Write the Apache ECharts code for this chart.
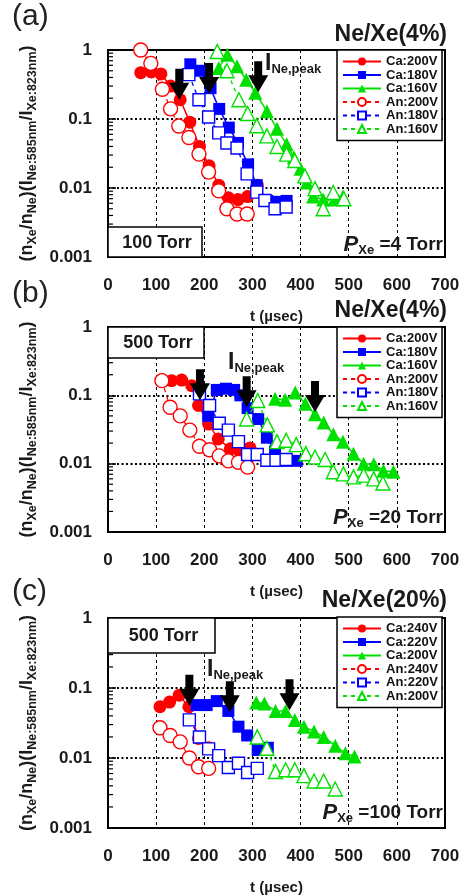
<!DOCTYPE html>
<html><head><meta charset="utf-8">
<script src="https://cdn.jsdelivr.net/npm/echarts@6/dist/echarts.min.js"></script>
<style>html,body{margin:0;padding:0;background:#fff}#c{width:466px;height:896px}</style>
</head><body><div id="c"></div>
<script>
// ---------- tick labels ----------
const yTickLabels = ['0.001', '0.01', '0.1', '1'];
const yMinorTicks = [0.002,0.003,0.004,0.005,0.006,0.007,0.008,0.009,
                     0.02,0.03,0.04,0.05,0.06,0.07,0.08,0.09,
                     0.2,0.3,0.4,0.5,0.6,0.7,0.8,0.9];

// ---------- panel (a): Ne/Xe(4%), 100 Torr, P_Xe = 4 Torr ----------
const namesA = ['Ca:200V','Ca:180V','Ca:160V','An:200V','An:180V','An:160V'];
const aCa200 = [[68,0.47],[90,0.48],[110,0.45],[130,0.3],[150,0.19],[170,0.09],[190,0.04],[210,0.021],[230,0.011],[250,0.0072],[270,0.0068],[290,0.0075],[310,0.011]];
const aCa180 = [[171,0.62],[192,0.5],[213,0.28],[231,0.14],[251,0.075],[270,0.045],[291,0.022],[309,0.011],[331,0.0065],[351,0.0063],[371,0.0065]];
const aCa160 = [[230,0.55],[248,0.85],[268,0.58],[287,0.37],[306,0.24],[330,0.13],[351,0.072],[371,0.043],[386,0.028],[400,0.019],[413,0.012],[426,0.0075],[447,0.0068],[470,0.0068],[488,0.0075]];
const aAn200 = [[68,1.0],[89,0.64],[113,0.27],[130,0.14],[147,0.079],[168,0.054],[189,0.031],[209,0.017],[230,0.0091],[247,0.005],[268,0.0042],[289,0.0042]];
const aAn180 = [[168,0.44],[189,0.19],[209,0.107],[230,0.063],[247,0.045],[268,0.038],[289,0.016],[309,0.0087],[326,0.0066],[347,0.005],[370,0.0053]];
const aAn160 = [[227,0.95],[247,0.5],[272,0.19],[290,0.12],[309,0.08],[330,0.057],[351,0.04],[371,0.031],[388,0.025],[409,0.015],[430,0.0098],[447,0.005],[468,0.0086],[490,0.007]];
const arrowsA = [[148,0.19],[210,0.23],[312,0.245]];

// ---------- panel (b): Ne/Xe(4%), 500 Torr, P_Xe = 20 Torr ----------
const namesB = ['Ca:200V','Ca:180V','Ca:160V','An:200V','An:180V','An:160V'];
const bCa200 = [[132,0.164],[153,0.167],[174,0.138],[188,0.071],[209,0.038],[229,0.023],[254,0.0165],[274,0.015],[295,0.017]];
const bCa180 = [[208,0.05],[226,0.12],[245,0.125],[262,0.12],[275,0.1],[290,0.065],[312,0.045],[330,0.024],[347,0.015],[370,0.011],[392,0.011]];
const bCa160 = [[347,0.089],[368,0.086],[389,0.11],[410,0.075],[430,0.053],[448,0.04],[468,0.027],[488,0.021],[510,0.014],[531,0.01],[552,0.0098],[572,0.0079],[593,0.0076]];
const bAn200 = [[112,0.164],[129,0.067],[150,0.05],[170,0.031],[190,0.018],[211,0.016],[231,0.013],[250,0.011],[271,0.0105],[290,0.0089]];
const bAn180 = [[190,0.105],[211,0.071],[231,0.039],[250,0.031],[271,0.021],[290,0.0136],[310,0.0136],[330,0.0112],[349,0.0112],[370,0.0115]];
const bAn160 = [[288,0.045],[311,0.084],[331,0.037],[351,0.021],[370,0.022],[391,0.019],[411,0.014],[430,0.0125],[451,0.0115],[468,0.0076],[489,0.0071],[510,0.0064],[531,0.0068],[552,0.006],[571,0.0052]];
const arrowsB = [[191,0.085],[288,0.067],[430,0.057]];

// ---------- panel (c): Ne/Xe(20%), 500 Torr, P_Xe = 100 Torr ----------
const namesC = ['Ca:240V','Ca:220V','Ca:200V','An:240V','An:220V','An:200V'];
const cCa240 = [[108,0.054],[128,0.063],[148,0.079],[168,0.054],[188,0.019],[209,0.014]];
const cCa220 = [[184,0.057],[205,0.057],[226,0.065],[250,0.047],[271,0.028],[289,0.021],[311,0.013],[332,0.014]];
const cCa200 = [[308,0.062],[325,0.06],[348,0.047],[369,0.047],[388,0.035],[407,0.028],[428,0.024],[448,0.02],[472,0.015],[493,0.0117],[512,0.0105]];
const cAn240 = [[108,0.027],[129,0.021],[150,0.017],[169,0.01],[188,0.0075],[209,0.0071]];
const cAn220 = [[169,0.035],[190,0.02],[209,0.0135],[230,0.0108],[250,0.0073],[271,0.0084],[290,0.0062],[310,0.0071]];
const cAn200 = [[310,0.02],[330,0.0138],[348,0.0064],[369,0.0068],[388,0.0068],[407,0.0056],[428,0.0047],[448,0.0047],[472,0.0036]];
const arrowsC = [[169,0.056],[253,0.045],[377,0.048]];

// ---------- layout / style ----------
const FONT = '"Liberation Sans", Arial, Helvetica, sans-serif';
const colors = ['#ff0000', '#0000ff', '#00e000'];
const symbols = ['circle', 'rect', 'triangle'];
const filledSize = [13, 12, 14];
const openSize = [14, 12, 14];
const gridBoxes = [{top: 50, height: 207}, {top: 327, height: 205}, {top: 618, height: 211}];
const legendTops = [50, 327, 617];

const panels = [
  {id: 'a', names: namesA, ca: [aCa200, aCa180, aCa160], an: [aAn200, aAn180, aAn160], arrows: arrowsA},
  {id: 'b', names: namesB, ca: [bCa200, bCa180, bCa160], an: [bAn200, bAn180, bAn160], arrows: arrowsB},
  {id: 'c', names: namesC, ca: [cCa240, cCa220, cCa200], an: [cAn240, cAn220, cAn200], arrows: arrowsC}
];

const yNameRich = {
  m: {fontSize: 18, fontWeight: 'bold', color: '#1a1a1a', lineHeight: 24, verticalAlign: 'middle', fontFamily: FONT},
  s: {fontSize: 12.5, fontWeight: 'bold', color: '#1a1a1a', lineHeight: 12, verticalAlign: 'bottom', fontFamily: FONT}
};
const yName = '{m|(n}{s|Xe}{m|/n}{s|Ne}{m|)(I}{s|Ne:585nm}{m|/I}{s|Xe:823nm}{m|)}';

const grid = [], xAxis = [], yAxis = [], legend = [], series = [];
panels.forEach((p, i) => {
  grid.push({left: 108, width: 337, top: gridBoxes[i].top, height: gridBoxes[i].height,
    show: true, borderColor: '#000', borderWidth: 2, backgroundColor: 'transparent'});
  xAxis.push({type: 'value', gridIndex: i, min: 0, max: 700, interval: 100,
    axisLine: {show: false}, axisTick: {show: false},
    splitLine: {show: true, lineStyle: {color: '#000', type: [3, 3], width: 1}},
    axisLabel: {fontSize: 17, fontWeight: 'bold', color: '#1a1a1a', margin: 20, fontFamily: FONT},
    name: 't (µsec)', nameLocation: 'middle', nameGap: 52,
    nameTextStyle: {fontSize: 15, fontWeight: 'bold', color: '#1a1a1a', fontFamily: FONT}});
  yAxis.push({type: 'log', logBase: 10, gridIndex: i, min: 0.001, max: 1,
    axisLine: {show: false},
    axisTick: {show: true, inside: true, length: 8, lineStyle: {color: '#000', width: 1.5}},
    splitLine: {show: true, lineStyle: {color: '#000', type: [2, 2.5], width: 2}},
    axisLabel: {fontSize: 17, fontWeight: 'bold', color: '#1a1a1a', margin: 16, fontFamily: FONT,
      formatter: v => yTickLabels[Math.round(Math.log10(v)) + 3]},
    name: yName, nameLocation: 'middle', nameRotate: 90, nameGap: 64,
    nameTextStyle: {rich: yNameRich}});
  const sNames = p.names.map(n => p.id + '|' + n);
  legend.push({data: sNames, orient: 'vertical', left: 337, top: legendTops[i],
    itemWidth: 38, itemHeight: 10, itemGap: 0.5, padding: [5, 4, 5, 5],
    borderColor: '#000', borderWidth: 1.5, backgroundColor: '#fff', selectedMode: false,
    formatter: n => n.split('|')[1], z: 20,
    textStyle: {fontSize: 13, fontWeight: 'bold', color: '#111', lineHeight: 12.5, fontFamily: FONT}});
  p.ca.forEach((d, k) => {
    series.push({type: 'line', name: sNames[k], xAxisIndex: i, yAxisIndex: i, data: d,
      symbol: symbols[k], symbolSize: filledSize[k], showSymbol: true, showAllSymbol: true,
      itemStyle: {color: colors[k]}, lineStyle: {color: colors[k], width: 1.5, type: 'solid'},
      z: 3, animation: false});
  });
  p.an.forEach((d, k) => {
    series.push({type: 'line', name: sNames[k + 3], xAxisIndex: i, yAxisIndex: i, data: d,
      symbol: symbols[k], symbolSize: openSize[k], showSymbol: true, showAllSymbol: true,
      itemStyle: {color: '#fff', borderColor: colors[k], borderWidth: 1.4},
      lineStyle: {color: colors[k], width: 1.3, type: [4, 4]},
      z: 4, animation: false});
  });
  // downward arrows marking I_Ne,peak
  series.push({type: 'custom', xAxisIndex: i, yAxisIndex: i, data: p.arrows, z: 10, animation: false,
    renderItem: (params, api) => {
      const c = api.coord([api.value(0), api.value(1)]);
      const x = c[0], y = c[1];
      return {type: 'polygon', shape: {points: [[x - 4, y - 31], [x + 4, y - 31], [x + 4, y - 17],
        [x + 10, y - 17], [x, y], [x - 10, y - 17], [x - 4, y - 17]]}, style: {fill: '#000'}};
    }});
  // log minor ticks on the left axis
  series.push({type: 'custom', xAxisIndex: i, yAxisIndex: i, data: yMinorTicks.map(v => [0, v]), z: 6,
    animation: false, silent: true,
    renderItem: (params, api) => {
      const c = api.coord([0, api.value(1)]);
      return {type: 'line', shape: {x1: c[0], y1: c[1], x2: c[0] + 5, y2: c[1]},
        style: {stroke: '#000', lineWidth: 1.2}};
    }});
});

// ---------- annotations ----------
const panelLabels = ['(a)', '(b)', '(c)'];
const panelLabelY = [17, 294, 592];
const mixTitles = ['Ne/Xe(4%)', 'Ne/Xe(4%)', 'Ne/Xe(20%)'];
const mixTitleY = [35, 311, 601];
const torrTexts = ['100 Torr', '500 Torr', '500 Torr'];
const torrBoxes = [{y: 227, w: 94, h: 30}, {y: 327, w: 96, h: 31}, {y: 618, w: 107, h: 35}];
const pxeTexts = ['4', '20', '100'];
const pxeY = [245, 518, 813];
const peakPos = [[265, 64], [228, 363], [207, 670]];

const graphic = [];
panels.forEach((p, i) => {
  graphic.push({type: 'text', x: 12, y: panelLabelY[i], z: 50,
    style: {text: panelLabels[i], fontSize: 30, fontFamily: FONT, fill: '#222', verticalAlign: 'middle', align: 'left'}});
  graphic.push({type: 'text', x: 447, y: mixTitleY[i], z: 50,
    style: {text: mixTitles[i], fontSize: 23, fontWeight: 'bold', fontFamily: FONT, fill: '#1a1a1a', verticalAlign: 'middle', align: 'right'}});
  const b = torrBoxes[i];
  graphic.push({type: 'rect', z: 40, shape: {x: 108, y: b.y, width: b.w, height: b.h},
    style: {fill: '#fff', stroke: '#000', lineWidth: 1.5}});
  graphic.push({type: 'text', z: 41, x: 108 + b.w / 2 + 2, y: b.y + b.h / 2 + 1,
    style: {text: torrTexts[i], fontSize: 18, fontWeight: 'bold', fontFamily: FONT, fill: '#1a1a1a', align: 'center', verticalAlign: 'middle'}});
  graphic.push({type: 'text', z: 41, x: 443, y: pxeY[i],
    style: {text: '{p|P}{s|Xe}{t| =' + pxeTexts[i] + ' Torr}', align: 'right', verticalAlign: 'middle',
      rich: {
        p: {fontSize: 22, fontWeight: 'bold', fontStyle: 'italic', fill: '#1a1a1a', lineHeight: 24, verticalAlign: 'middle', fontFamily: FONT},
        s: {fontSize: 13, fontWeight: 'bold', fill: '#1a1a1a', lineHeight: 13, verticalAlign: 'bottom', fontFamily: FONT},
        t: {fontSize: 19, fontWeight: 'bold', fill: '#1a1a1a', lineHeight: 24, verticalAlign: 'middle', fontFamily: FONT}
      }}});
  graphic.push({type: 'text', z: 41, x: peakPos[i][0], y: peakPos[i][1],
    style: {text: '{i|I}{s|Ne,peak}', align: 'left', verticalAlign: 'middle',
      rich: {
        i: {fontSize: 23, fontWeight: 'bold', fill: '#1a1a1a', lineHeight: 24, verticalAlign: 'middle', fontFamily: FONT},
        s: {fontSize: 13, fontWeight: 'bold', fill: '#1a1a1a', lineHeight: 13, verticalAlign: 'bottom', fontFamily: FONT}
      }}});
});

const chart = echarts.init(document.getElementById('c'), null, {renderer: 'canvas'});
chart.setOption({
  animation: false,
  backgroundColor: '#fff',
  textStyle: {fontFamily: FONT},
  grid, xAxis, yAxis, legend, series, graphic
});
</script></body></html>
